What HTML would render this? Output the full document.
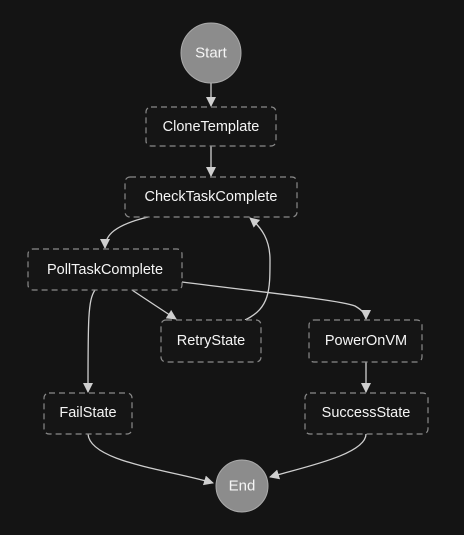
<!DOCTYPE html>
<html><head><style>
html,body{margin:0;padding:0;background:#141414;}
svg{display:block}
text{font-family:"Liberation Sans",sans-serif;font-size:14.5px;fill:#f5f5f5;text-anchor:middle;dominant-baseline:central}
.n{fill:#151515;stroke:#8a8a8a;stroke-width:1.2;stroke-dasharray:6 4}
.e{fill:none;stroke:#cfcfcf;stroke-width:1.3}
</style></head><body>
<svg width="464" height="535" viewBox="0 0 464 535">
<defs><marker id="a" markerWidth="10" markerHeight="10" refX="9" refY="5" orient="auto" markerUnits="userSpaceOnUse"><path d="M0,0 L10,5 L0,10 z" fill="#cfcfcf"/></marker></defs>
<rect width="464" height="535" fill="#141414"/>
<path class="e" d="M211 83 V106" marker-end="url(#a)"/>
<path class="e" d="M211 146 V176" marker-end="url(#a)"/>
<path class="e" d="M148 217 C115 225 105 235 105 248" marker-end="url(#a)"/>
<path class="e" d="M132 290 C150 302 162 310 176 319" marker-end="url(#a)"/>
<path class="e" d="M245 320 C270 308 270 290 270 260 C270 240 262 228 250 218" marker-end="url(#a)"/>
<path class="e" d="M182 282 C260 292 340 300 355 306 C362 310 366 314 366 319" marker-end="url(#a)"/>
<path class="e" d="M95 290 C88 300 88 320 88 392" marker-end="url(#a)"/>
<path class="e" d="M366 362 V392" marker-end="url(#a)"/>
<path class="e" d="M88 434 C90 462 170 470 213 483" marker-end="url(#a)"/>
<path class="e" d="M366 434 C366 455 300 468 270 477" marker-end="url(#a)"/>
<circle cx="211" cy="53" r="30" fill="#8c8c8c" stroke="#ababab" stroke-width="1"/>
<text x="211" y="53" style="font-size:15px">Start</text>
<rect class="n" x="146" y="107" width="130" height="39" rx="5"/><text x="211" y="127">CloneTemplate</text>
<rect class="n" x="125" y="177" width="172" height="40" rx="5"/><text x="211" y="197">CheckTaskComplete</text>
<rect class="n" x="28" y="249" width="154" height="41" rx="5"/><text x="105" y="270">PollTaskComplete</text>
<rect class="n" x="161" y="320" width="100" height="42" rx="5"/><text x="211" y="341">RetryState</text>
<rect class="n" x="309" y="320" width="113" height="42" rx="5"/><text x="366" y="341">PowerOnVM</text>
<rect class="n" x="44" y="393" width="88" height="41" rx="5"/><text x="88" y="413">FailState</text>
<rect class="n" x="305" y="393" width="123" height="41" rx="5"/><text x="366" y="413">SuccessState</text>
<circle cx="242" cy="486" r="26" fill="#8c8c8c" stroke="#ababab" stroke-width="1"/>
<text x="242" y="486" style="font-size:15px">End</text>
</svg>
</body></html>
